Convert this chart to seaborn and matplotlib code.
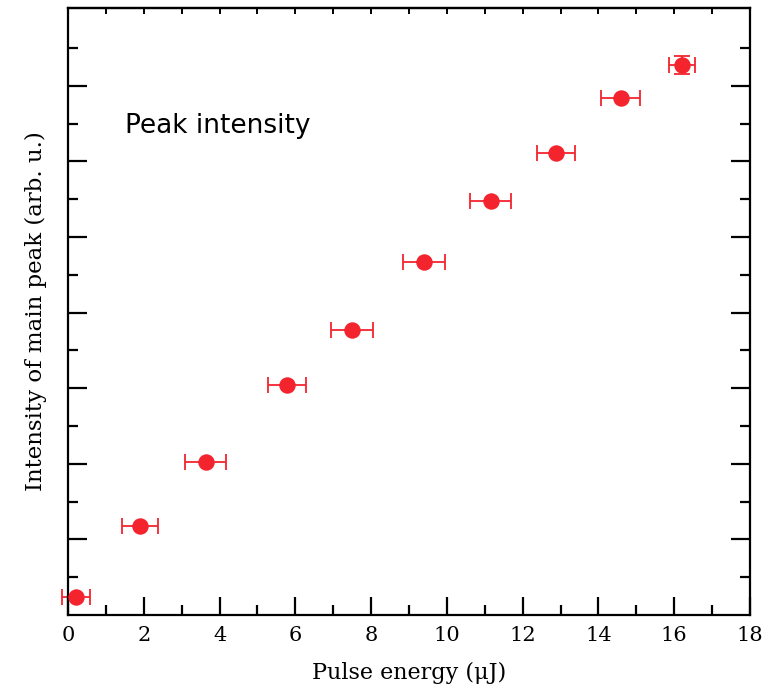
import matplotlib
matplotlib.use("Agg")
import matplotlib.pyplot as plt
import seaborn as sns
import numpy as np
import pandas as pd
from matplotlib.ticker import MultipleLocator

energy = [0.20, 1.90, 3.63, 5.78, 7.50, 9.40, 11.16, 12.88, 14.59, 16.20]
intensity = [0.234, 1.183, 2.026, 3.046, 3.771, 4.666, 5.483, 6.115, 6.834, 7.275]
energy_err = [0.37, 0.475, 0.53, 0.50, 0.56, 0.55, 0.54, 0.51, 0.51, 0.35]
intensity_err = [0, 0, 0, 0, 0, 0, 0, 0, 0, 0.12]
x_ticks = [0, 2, 4, 6, 8, 10, 12, 14, 16, 18]
y_major = [1, 2, 3, 4, 5, 6, 7]
y_minor = [0.5, 1.5, 2.5, 3.5, 4.5, 5.5, 6.5, 7.5]

df = pd.DataFrame({"energy": energy, "intensity": intensity})

sns.set_style("ticks")
plt.rcParams["font.family"] = ["DejaVu Serif"]
plt.rcParams["text.color"] = "black"
plt.rcParams["axes.labelcolor"] = "black"
plt.rcParams["xtick.color"] = "black"
plt.rcParams["ytick.color"] = "black"

fig = plt.figure(figsize=(7.79, 6.94), dpi=100)
ax = fig.add_axes([68/779, 1-615/694, (750-68)/779, (615-8)/694])

red = "#f4242e"
ax.errorbar(energy, intensity, xerr=energy_err, yerr=intensity_err, fmt="none",
            ecolor=red, elinewidth=1.3, capsize=6, capthick=1.3, clip_on=False, zorder=2)
sns.scatterplot(data=df, x="energy", y="intensity", ax=ax, color=red, s=140,
                edgecolor=red, linewidth=0, zorder=3, clip_on=False)

ax.set_xlim(0, 18)
ax.set_ylim(0, 8.03)
ax.set_xticks(x_ticks)
ax.set_xticklabels([str(t) for t in x_ticks], fontsize=15, color="black")
ax.xaxis.set_minor_locator(MultipleLocator(1))
ax.set_yticks(y_major)
ax.set_yticks(y_minor, minor=True)
ax.set_yticklabels([])

for s in ax.spines.values():
    s.set_linewidth(1.6)
    s.set_color("black")
    s.set_visible(True)

ax.tick_params(axis="x", which="major", direction="in", length=13, width=1.6,
               bottom=True, top=False, pad=8, labelcolor="black", colors="black")
ax.tick_params(axis="x", which="minor", direction="in", length=7, width=1.6,
               bottom=True, top=False, colors="black")
ax.tick_params(axis="y", which="major", direction="in", length=14, width=1.6,
               left=True, right=True, labelleft=False, colors="black")
ax.tick_params(axis="y", which="minor", direction="in", length=7, width=1.6,
               left=True, right=True, colors="black")

# small ticks along the top at every unit
secx = ax.secondary_xaxis("top")
secx.set_xticks(list(range(1, 18)))
secx.tick_params(direction="in", length=4, width=1.4, labeltop=False, colors="black")
secx.spines["top"].set_linewidth(1.6)
secx.spines["top"].set_color("black")

ax.set_xlabel("Pulse energy (\u03bcJ)", fontsize=16, labelpad=12, color="black")
ax.set_ylabel("Intensity of main peak (arb. u.)", fontsize=16.5, labelpad=12, color="black")

ax.text(125/779, 1-126/694, "Peak intensity", transform=fig.transFigure,
        fontsize=19, family=["DejaVu Sans"], va="center", ha="left", color="black")

fig.savefig("out.png", dpi=100)
